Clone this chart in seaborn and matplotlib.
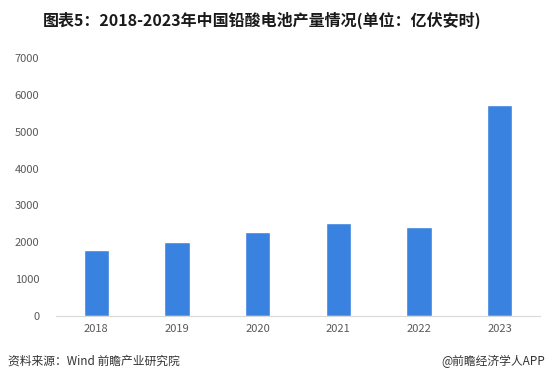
import matplotlib
matplotlib.use("Agg")
import matplotlib.pyplot as plt
import seaborn as sns
import pandas as pd

# ─── DATA ───────────────────────────────────────────────
years = ["2018", "2019", "2020", "2021", "2022", "2023"]
output = [1790, 2010, 2280, 2520, 2415, 5720]   # 亿伏安时
y_ticks = [0, 1000, 2000, 3000, 4000, 5000, 6000, 7000]

title = "图表5：2018-2023年中国铅酸电池产量情况(单位：亿伏安时)"
source = "资料来源：Wind 前瞻产业研究院"
credit = "@前瞻经济学人APP"

# ─── STYLE ──────────────────────────────────────────────
sns.set_theme(style="white")
plt.rcParams["font.family"] = ["Noto Sans CJK SC", "DejaVu Sans"]

BAR = "#3A82E0"
GREY = "#595959"

df = pd.DataFrame({"year": years, "value": output})

fig = plt.figure(figsize=(5.5, 3.81), dpi=100)
ax = fig.add_axes([56 / 550, 65 / 381, 484 / 550, 258 / 381])

sns.barplot(data=df, x="year", y="value", color=BAR, width=0.31,
            saturation=1, ax=ax)

ax.set_xlim(-0.5, len(years) - 0.5)
ax.set_ylim(0, 7000)
ax.set_yticks(y_ticks)
ax.set_xlabel("")
ax.set_ylabel("")
ax.tick_params(axis="both", length=0, labelsize=8, colors=GREY)
ax.tick_params(axis="y", pad=12)
ax.tick_params(axis="x", pad=6)

for side in ["top", "right", "left"]:
    ax.spines[side].set_visible(False)
ax.spines["bottom"].set_color("#D9D9D9")
ax.spines["bottom"].set_linewidth(0.8)

fig.text(262 / 550, 1 - 20 / 381, title, ha="center", va="center",
         fontsize=11.5, fontweight="bold", color="#1a1a1a")
fig.text(8 / 550, 1 - 361 / 381, source, ha="left", va="center",
         fontsize=8.5, color="#333333")
fig.text(545 / 550, 1 - 361 / 381, credit, ha="right", va="center",
         fontsize=8.5, color="#333333")

fig.savefig("out.png", dpi=100)
